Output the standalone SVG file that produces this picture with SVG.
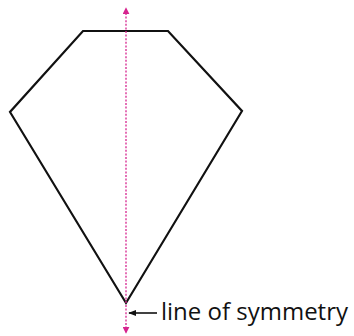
<svg xmlns="http://www.w3.org/2000/svg" width="354" height="336" viewBox="0 0 354 336">
<defs>
<style>
.shape{fill:none;stroke:#111;stroke-width:2.2;stroke-linejoin:miter}
.sym{stroke:#d6248f;stroke-width:1.3;stroke-dasharray:2 1.6;fill:none}
.lbl{font-family:"Open Sans","Liberation Sans",sans-serif;font-size:23.5px;fill:#111}
.ptr{stroke:#111;stroke-width:1.6;fill:none}
</style>
<marker id="pink" viewBox="0 0 10 10" refX="9" refY="5" markerWidth="7" markerHeight="7" markerUnits="userSpaceOnUse" orient="auto">
<path d="M0,0 L10,5 L0,10 Z" fill="#d6248f"/>
</marker>
<marker id="blk" viewBox="0 0 10 10" refX="9" refY="5" markerWidth="8" markerHeight="8" markerUnits="userSpaceOnUse" orient="auto">
<path d="M0,1 L10,5 L0,9 Z" fill="#111"/>
</marker>
</defs>
<g id="kite">
<polygon class="shape" points="83,31 168,31 242,111 126,303 10,112"/>
</g>
<g id="connectors">
<line class="sym" x1="126" y1="305" x2="126" y2="333" marker-end="url(#pink)"/>
<line class="sym" x1="126" y1="303" x2="126" y2="8" marker-end="url(#pink)"/>
<line class="ptr" x1="157" y1="313" x2="129" y2="313" marker-end="url(#blk)"/>
</g>
<g id="label">
<text class="lbl" x="161" y="320" textLength="187" lengthAdjust="spacingAndGlyphs">line of symmetry</text>
</g>
</svg>
